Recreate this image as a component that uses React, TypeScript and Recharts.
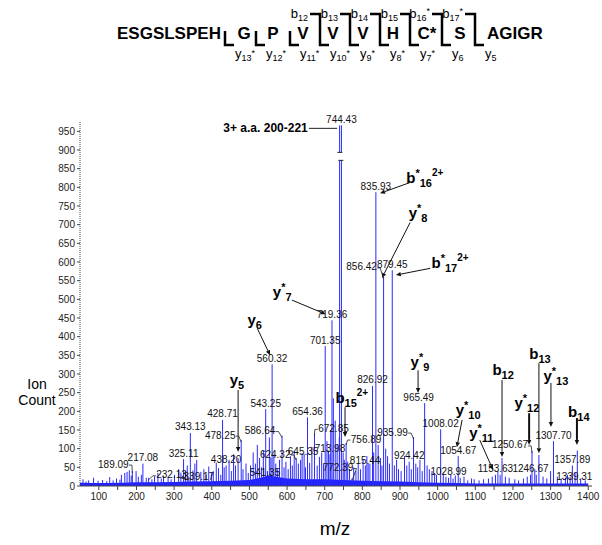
import React from 'react';
import {
  ComposedChart, Bar, Area, XAxis, YAxis, LabelList,
  ReferenceLine, ReferenceDot,
} from 'recharts';

const FONT = '"Liberation Sans", Arial, sans-serif';

// labelled peaks: m/z and ion count
const peakMz = [189.09, 217.08, 232.13, 325.11, 339.17, 343.13, 428.71, 438.2, 478.25, 541.35,
  543.25, 560.32, 586.64, 624.32, 645.35, 654.36, 672.85, 701.35, 713.98, 719.36,
  744.43, 756.89, 772.39, 815.44, 826.92, 835.93, 856.42, 879.45, 924.42, 935.99,
  965.49, 1008.02, 1028.99, 1054.67, 1153.63, 1246.67, 1250.67, 1307.7, 1339.31, 1357.89];
const peakCount = [40, 60, 22, 72, 22, 142, 177, 55, 123, 22,
  206, 326, 135, 75, 85, 184, 141, 375, 85, 444,
  966, 115, 20, 60, 268, 787, 560, 578, 65, 131,
  222, 152, 22, 80, 30, 30, 94, 120, 22, 55];

// unlabelled peaks
const minorMz = [58, 66, 73, 86, 98, 110, 121, 129, 138, 147, 156, 160, 169, 175, 181, 186, 199, 205, 213,
  226, 241, 248, 257, 266, 272, 284, 292, 301, 312, 318, 330, 335, 350, 355, 360, 371, 379, 385, 392, 399, 404, 412, 418, 424,
  433, 446, 452, 458, 463, 470, 483, 491, 497,
  503, 510, 516, 521, 527, 532, 537, 548, 553, 557, 565, 570, 575, 580, 592, 597,
  603, 609, 614, 619, 630, 636, 640, 649, 660, 666, 680, 686, 692, 697,
  706, 710, 716, 723, 728, 733, 738.8, 739.6, 749, 752, 761, 766, 777, 783, 789, 795,
  802, 808, 812, 820, 830, 842, 848, 852, 862, 867, 872, 885, 891, 896,
  903, 912, 918, 930, 942, 947, 953, 959, 972, 978, 985, 992, 997,
  1015, 1022, 1035, 1041, 1047, 1060, 1070, 1080, 1090, 1097,
  1110, 1122, 1135, 1145, 1160, 1166, 1171, 1180, 1190,
  1205, 1215, 1228, 1238, 1258, 1262, 1269, 1280, 1290, 1300, 1318, 1328, 1345, 1352, 1365, 1371, 1380, 1392];
const minorCount = [18, 12, 15, 22, 14, 16, 13, 24, 15, 20, 17, 30, 35, 38, 42, 28, 40, 25, 30,
  22, 18, 26, 35, 20, 28, 24, 18, 30, 45, 36, 40, 55, 42, 60, 70, 38, 45, 30, 52, 36, 40, 62, 48, 30,
  50, 70, 40, 85, 55, 75, 45, 60, 35,
  55, 90, 60, 110, 75, 50, 95, 40, 130, 75, 85, 60, 45, 70, 50, 65,
  45, 80, 55, 95, 60, 70, 88, 50, 62, 105, 55, 78, 90, 60,
  120, 95, 150, 235, 175, 110, 130, 966, 90, 70, 65, 45, 50, 40, 60, 45,
  70, 55, 80, 60, 90, 110, 75, 55, 100, 80, 60, 55, 70, 45,
  40, 80, 55, 45, 60, 50, 70, 40, 55, 45, 40, 35, 30,
  35, 25, 30, 20, 28, 22, 25, 15, 20, 18,
  15, 18, 20, 25, 40, 30, 75, 25, 22,
  18, 15, 20, 25, 45, 30, 83, 25, 20, 40, 25, 20, 30, 25, 35, 95, 20, 15];

// dense baseline noise envelope
const baseMz = [50, 80, 120, 160, 200, 250, 300, 350, 400, 450, 500, 530, 550, 575, 600, 650, 700, 750,
  800, 850, 900, 950, 1000, 1050, 1100, 1150, 1200, 1250, 1300, 1350, 1400];
const baseCount = [9, 8, 8, 9, 10, 10, 11, 12, 13, 14, 16, 22, 28, 24, 20, 18, 18, 16,
  14, 13, 12, 10, 9, 8, 7, 7, 7, 7, 7, 7, 7];

const xTicks = [100, 150, 200, 250, 300, 350, 400, 450, 500, 550, 600, 650, 700, 750, 800, 850, 900, 950,
  1000, 1050, 1100, 1150, 1200, 1250, 1300, 1350, 1400];
const yTicks = [0, 50, 100, 150, 200, 250, 300, 350, 400, 450, 500, 550, 600, 650, 700, 750, 800, 850, 900, 950];

type Row = { mz: number; count?: number; label?: string; base?: number };
const rows: Row[] = [
  ...peakMz.map((mz, i) => ({ mz, count: peakCount[i], label: mz.toFixed(2) })),
  ...minorMz.map((mz, i) => ({ mz, count: minorCount[i] })),
  ...baseMz.map((mz, i) => ({ mz, base: baseCount[i] })),
].sort((a, b) => a.mz - b.mz);

// label offsets in px: [dx, dy, leader]
const labelOffsets: Record<string, [number, number, boolean]> = {
  '189.09': [-19, -7, true],
  '232.13': [23, -3, true],
  '339.17': [10, -1, true],
  '478.25': [-21, -5, true],
  '541.35': [0, -5, false],
  '586.64': [-22, -5, true],
  '624.32': [-21, -4, true],
  '645.35': [-1, -3, false],
  '672.85': [19, -5, true],
  '756.89': [20, -4, true],
  '772.39': [-14, -11, true],
  '815.44': [-3, -3, false],
  '856.42': [-22, -10, true],
  '935.99': [-21, -5, true],
  '965.49': [-6, -6, false],
  '1250.67': [-22, -6, true],
  '1339.31': [9, -1, false],
};

const Stick = (p: any) => {
  const { x, y, width, height } = p;
  if (!height || height <= 0) return null;
  return <rect x={x + width / 2 - 0.5} y={y} width={1} height={height} fill="#2b2bff" />;
};

const PeakLabel = (props: any) => {
  const { value } = props;
  if (!value) return null;
  const x = props.x ?? props.viewBox?.x;
  const y = props.y ?? props.viewBox?.y;
  const w = props.width ?? props.viewBox?.width ?? 1;
  const [dx, dy, leader] = labelOffsets[value] || [0, -6, false];
  const px = x + w / 2;
  const cx = px + dx;
  const cy = y + dy;
  const hw = String(value).length * 2.6;
  let lead = null;
  if (leader) {
    const sx = dx < 0 ? cx + hw : cx - hw;
    lead = <polyline points={`${sx},${cy + 1} ${sx + (dx < 0 ? 3 : -3)},${cy + 1} ${px},${y + 2}`}
      fill="none" stroke="#222" strokeWidth={0.8} />;
  }
  return (
    <g>
      {lead}
      <text x={cx} y={cy + 3.5} textAnchor="middle" fontSize={10} fontFamily={FONT} fill="#111">{value}</text>
    </g>
  );
};

type Ion = { ch: string; star?: boolean; sub: string; charge?: string; at: [number, number]; arrow: [number, number][]; thick?: boolean };
const ions: Ion[] = [
  { ch: 'y', sub: '5', at: [467, 284], arrow: [[470, 257], [470, 91]] },
  { ch: 'y', sub: '6', at: [514, 444], arrow: [[521, 422], [555, 350]] },
  { ch: 'y', star: true, sub: '7', at: [587, 519], arrow: [[613, 498], [703, 460]] },
  { ch: 'b', sub: '15', charge: '2+', at: [772, 235], arrow: [[754, 211], [754, 131]] },
  { ch: 'b', star: true, sub: '16', charge: '2+', at: [966, 824], arrow: [[927, 813], [847, 784]] },
  { ch: 'y', star: true, sub: '8', at: [948, 730], arrow: [[927, 706], [852, 557]] },
  { ch: 'b', star: true, sub: '17', charge: '2+', at: [1033, 597], arrow: [[980, 583], [889, 565]] },
  { ch: 'y', star: true, sub: '9', at: [953, 332], arrow: [[948, 310], [948, 249]] },
  { ch: 'y', star: true, sub: '10', at: [1081, 203], arrow: [[1065, 177], [1051, 104]] },
  { ch: 'y', star: true, sub: '11', at: [1116, 142], arrow: [[1112, 123], [1147, 43]] },
  { ch: 'b', sub: '12', at: [1174, 310], arrow: [[1171, 284], [1171, 78]] },
  { ch: 'y', star: true, sub: '12', at: [1237, 222], arrow: [[1243, 195], [1243, 110]], thick: true },
  { ch: 'b', sub: '13', at: [1272, 353], arrow: [[1269, 329], [1269, 88]] },
  { ch: 'y', star: true, sub: '13', at: [1314, 294], arrow: [[1301, 276], [1301, 158]] },
  { ch: 'b', sub: '14', at: [1375, 198], arrow: [[1370, 182], [1370, 110]], thick: true },
];

const IonText = ({ cx, cy, ion }: { cx: number; cy: number; ion: Ion }) => (
  <text x={cx} y={cy + 5} textAnchor="middle" fontFamily={FONT} fontWeight="bold" fill="#000">
    <tspan fontSize={15}>{ion.ch}</tspan>
    {ion.star && <tspan fontSize={11} dy={-6}>*</tspan>}
    <tspan fontSize={11} dy={ion.star ? 10 : 4}>{ion.sub}</tspan>
    {ion.charge && <tspan fontSize={10} dy={-11}>{ion.charge}</tspan>}
  </text>
);

const arrowShape = (w: number) => (p: any) => {
  const { x1, y1, x2, y2 } = p;
  const a = Math.atan2(y2 - y1, x2 - x1);
  const L = 5, H = 2.2;
  const bx = x2 - L * Math.cos(a), by = y2 - L * Math.sin(a);
  const pts = `${x2},${y2} ${bx - H * Math.sin(a)},${by + H * Math.cos(a)} ${bx + H * Math.sin(a)},${by - H * Math.cos(a)}`;
  return (
    <g>
      <line x1={x1} y1={y1} x2={bx} y2={by} stroke="#111" strokeWidth={w} />
      <polygon points={pts} fill="#111" />
    </g>
  );
};

// axis break drawn across the off-scale precursor peak
const BreakMark = (p: any) => {
  const { cx, cy } = p;
  return (
    <g>
      <rect x={cx - 6} y={cy - 4} width={12} height={8} fill="#fff" />
      <line x1={cx - 3} y1={cy - 4} x2={cx + 2} y2={cy - 4} stroke="#222" strokeWidth={1} />
      <line x1={cx - 2} y1={cy + 4} x2={cx + 3} y2={cy + 4} stroke="#222" strokeWidth={1} />
    </g>
  );
};

// peptide sequence header
const residues = ['G', 'P', 'V', 'V', 'V', 'H', 'C*', 'S'];
const residueX = [244, 273, 303, 333, 363, 393, 427, 460];
const cleaveX = [225, 256, 290, 320, 350, 380, 410, 442, 475];
const bIons = ['', '', '', '12', '13', '14', '15', '16*', '17*'];
const yIons = ['13*', '12*', '11*', '10*', '9*', '8*', '7*', '6', '5'];

const Header = () => (
  <svg width={602} height={545} style={{ position: 'absolute', left: 0, top: 0, pointerEvents: 'none' }}>
    <g fontFamily={FONT} fill="#000">
      <text x={117} y={39} fontSize={17} fontWeight="bold">ESGSLSPEH</text>
      {residues.map((r, i) => (
        <text key={i} x={residueX[i]} y={39} fontSize={17} fontWeight="bold" textAnchor="middle">{r}</text>
      ))}
      <text x={487} y={39} fontSize={17} fontWeight="bold">AGIGR</text>
      {cleaveX.map((x, i) => {
        const b = bIons[i];
        const d = b ? `M${x - 10},14 L${x},14 L${x},45 L${x + 9},45` : `M${x},31 L${x},45 L${x + 9},45`;
        const yNum = yIons[i].replace('*', '');
        const yStar = yIons[i].includes('*');
        const bNum = b.replace('*', '');
        const bStar = b.includes('*');
        return (
          <g key={i}>
            <path d={d} fill="none" stroke="#000" strokeWidth={2.5} />
            {b && (
              <text x={x - 12} y={18} fontSize={13} textAnchor="end">
                b<tspan fontSize={9} dy={3}>{bNum}</tspan>
                {bStar && <tspan fontSize={9} dy={-7}>*</tspan>}
              </text>
            )}
            <text x={x + 10} y={58} fontSize={13}>
              y<tspan fontSize={9} dy={3}>{yNum}</tspan>
              {yStar && <tspan fontSize={9} dy={-5}>*</tspan>}
            </text>
          </g>
        );
      })}
      <text x={37} y={389} fontSize={14} textAnchor="middle">Ion</text>
      <text x={37} y={405} fontSize={14} textAnchor="middle">Count</text>
      <text x={335} y={535} fontSize={19} textAnchor="middle">m/z</text>
    </g>
  </svg>
);

export default function App() {
  return (
    <div style={{ position: 'absolute', left: 0, top: 0, width: 602, height: 545, background: '#fff' }}>
      <ComposedChart width={602} height={545} data={rows}
        margin={{ top: 122, right: 10, bottom: 29, left: 0 }}>
        <XAxis dataKey="mz" type="number" domain={[50, 1410]} allowDataOverflow ticks={xTicks}
          tickFormatter={(v: number) => (v % 100 === 0 ? String(v) : '')}
          height={30} tickSize={4} tickMargin={3}
          axisLine={{ stroke: '#444' }} tickLine={{ stroke: '#444' }}
          tick={{ fontSize: 10, fill: '#222', fontFamily: FONT }} />
        <YAxis type="number" domain={[0, 975]} allowDataOverflow ticks={yTicks} width={80}
          tickSize={3} tickMargin={2}
          axisLine={{ stroke: '#444', strokeDasharray: '1 1' }} tickLine={{ stroke: '#444' }}
          tick={{ fontSize: 10, fill: '#222', fontFamily: FONT }} />
        <Area dataKey="base" type="linear" connectNulls stroke="none" fill="#1f1fff" fillOpacity={1}
          isAnimationActive={false} />
        <Bar dataKey="count" fill="#2b2bff" barSize={1} shape={Stick} isAnimationActive={false}>
          <LabelList dataKey="label" content={PeakLabel} />
        </Bar>
        <ReferenceDot x={741.5} y={883} r={0} ifOverflow="visible" shape={BreakMark} />
        <ReferenceLine segment={[{ x: 658, y: 958 }, { x: 733, y: 958 }]} stroke="#222" ifOverflow="visible" />
        <ReferenceDot x={655} y={958} r={0} ifOverflow="visible"
          shape={(p: any) => (
            <text x={p.cx} y={p.cy + 4} textAnchor="end" fontSize={12} fontWeight="bold" fontFamily={FONT}>3+ a.a. 200-221</text>
          )} />
        {ions.map((ion, i) => (
          <ReferenceLine key={'a' + i} ifOverflow="visible"
            segment={[{ x: ion.arrow[0][0], y: ion.arrow[0][1] }, { x: ion.arrow[1][0], y: ion.arrow[1][1] }]}
            shape={arrowShape(ion.thick ? 2 : 1)} />
        ))}
        {ions.map((ion, i) => (
          <ReferenceDot key={'t' + i} x={ion.at[0]} y={ion.at[1]} r={0} ifOverflow="visible"
            shape={(p: any) => <IonText cx={p.cx} cy={p.cy} ion={ion} />} />
        ))}
      </ComposedChart>
      <Header />
    </div>
  );
}
